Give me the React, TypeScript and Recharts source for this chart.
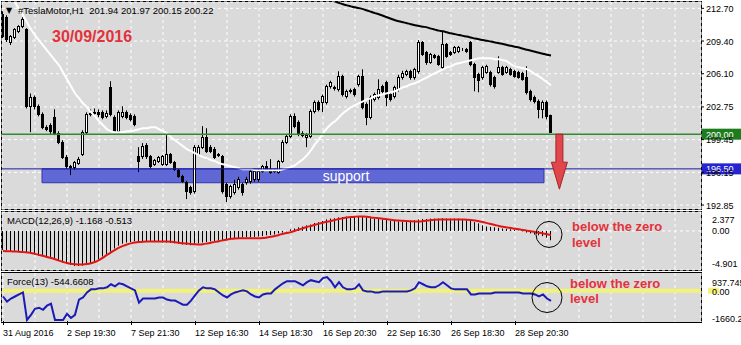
import React from 'react'
import {
  Bar,
  CartesianGrid,
  ComposedChart,
  Line,
  ReferenceArea,
  ReferenceDot,
  ReferenceLine,
  XAxis,
  YAxis,
} from 'recharts'

// #TeslaMotor H1, 31 Aug - 30 Sep 2016, one entry per hourly bar
const opens = [
  212.10, 211.79, 209.27, 209.78, 210.38, 210.89, 210.58, 202.82, 203.73, 202.82,
  202.01, 200.70, 200.91, 201.71, 200.10, 199.19, 197.68, 196.77, 196.67, 197.08,
  197.98, 200.20, 202.01, 202.12, 202.22, 202.22, 201.81, 204.74, 201.71, 200.30,
  201.81, 202.22, 201.91, 201.81, 197.78, 197.78, 198.89, 197.78, 196.97, 197.28,
  196.97, 196.97, 197.98, 197.18, 196.37, 195.76, 195.16, 194.66, 194.25, 197.98,
  198.69, 199.70, 198.69, 198.49, 197.98, 197.78, 194.96, 193.75, 194.15, 194.66,
  194.96, 195.16, 195.26, 195.46, 195.46, 196.27, 196.77, 196.47, 196.27, 196.17,
  197.28, 199.19, 199.80, 201.81, 201.21, 200.10, 199.70, 199.80, 202.32, 203.22,
  203.22, 203.22, 204.84, 204.74, 204.53, 205.85, 203.83, 204.33, 204.53, 205.04,
  205.85, 203.02, 201.71, 203.53, 203.73, 204.84, 205.24, 204.03, 203.83, 204.53,
  205.74, 206.05, 206.35, 205.74, 206.35, 209.27, 208.26, 207.26, 207.96, 207.86,
  206.75, 209.07, 208.26, 208.26, 208.37, 208.57, 208.57, 209.27, 207.06, 206.05,
  205.74, 206.25, 206.25, 205.74, 206.25, 206.75, 206.25, 206.55, 206.35, 206.25,
  206.15, 205.74, 204.33, 203.73, 203.32, 202.52, 203.22, 201.94,
]
const highs = [
  212.40, 212.00, 210.00, 210.70, 211.00, 211.80, 210.70, 204.10, 203.90, 203.00,
  202.20, 200.90, 201.10, 202.52, 200.30, 199.40, 197.90, 196.90, 197.30, 197.70,
  200.40, 202.20, 202.50, 202.60, 202.50, 202.40, 202.40, 205.34, 201.90, 202.40,
  202.82, 202.40, 202.10, 202.00, 198.69, 199.10, 199.10, 197.90, 197.50, 197.80,
  197.90, 199.90, 198.10, 197.30, 196.50, 195.90, 195.30, 194.80, 198.90, 198.90,
  200.81, 200.60, 198.90, 198.70, 198.10, 197.90, 195.10, 194.90, 195.40, 195.70,
  195.10, 195.70, 196.40, 196.50, 196.50, 196.90, 197.28, 197.48, 196.50, 197.40,
  199.40, 200.00, 202.00, 202.10, 201.40, 200.30, 200.10, 202.50, 203.40, 203.40,
  204.00, 205.00, 205.40, 204.90, 206.35, 206.00, 204.50, 204.60, 204.70, 206.00,
  206.55, 203.20, 203.90, 204.20, 205.54, 205.00, 205.40, 204.20, 204.90, 206.00,
  206.40, 206.50, 206.50, 206.70, 209.50, 209.40, 208.40, 208.20, 208.10, 208.00,
  210.38, 209.20, 208.40, 208.90, 208.90, 208.70, 208.70, 209.40, 207.20, 206.20,
  206.90, 207.00, 206.40, 205.90, 207.86, 206.90, 206.90, 206.70, 206.50, 206.40,
  206.30, 206.85, 204.50, 203.90, 203.50, 203.40, 203.40, 201.97,
]
const lows = [
  209.70, 209.30, 209.00, 209.60, 210.20, 210.70, 202.60, 200.20, 202.50, 201.80,
  200.50, 200.30, 200.00, 199.90, 199.00, 197.50, 196.50, 195.87, 196.40, 196.90,
  197.80, 200.00, 201.80, 201.90, 201.70, 201.50, 201.60, 201.80, 200.10, 200.10,
  201.60, 201.50, 201.30, 200.80, 196.17, 197.50, 197.50, 196.50, 196.80, 197.10,
  196.80, 196.80, 197.00, 196.30, 195.60, 195.10, 193.45, 193.90, 194.00, 197.80,
  198.50, 198.10, 198.10, 197.50, 197.70, 194.00, 193.14, 193.50, 193.90, 194.40,
  193.80, 194.90, 195.00, 195.20, 195.20, 196.10, 196.30, 196.00, 196.10, 196.00,
  197.10, 199.00, 199.60, 200.60, 199.80, 199.70, 198.69, 199.60, 202.10, 202.30,
  202.22, 203.00, 204.60, 204.40, 204.30, 203.80, 203.60, 204.10, 203.80, 204.80,
  202.50, 200.91, 201.50, 203.30, 203.50, 204.10, 202.82, 203.30, 203.60, 204.30,
  205.50, 205.85, 205.50, 205.50, 206.10, 207.90, 207.00, 207.10, 207.60, 206.90,
  206.55, 207.70, 207.90, 208.10, 208.20, 208.40, 208.20, 206.85, 204.33, 204.23,
  205.50, 206.10, 204.80, 204.60, 206.10, 205.90, 206.10, 205.90, 205.70, 205.60,
  205.40, 204.00, 203.30, 203.10, 201.60, 201.60, 201.50, 200.15,
]
const closes = [
  209.88, 209.57, 209.88, 210.58, 210.89, 211.59, 202.82, 203.73, 202.82, 202.01,
  200.70, 200.50, 200.30, 200.10, 199.19, 197.68, 196.77, 196.67, 197.18, 197.48,
  200.20, 202.01, 202.12, 202.22, 202.01, 201.71, 202.12, 202.01, 200.30, 202.22,
  202.22, 201.71, 201.51, 201.01, 197.28, 198.79, 197.78, 196.77, 197.38, 197.68,
  197.78, 197.98, 197.18, 196.47, 195.76, 195.26, 194.25, 194.15, 198.69, 198.69,
  199.70, 198.28, 198.28, 197.68, 197.88, 194.25, 193.75, 194.76, 194.96, 195.46,
  194.15, 195.46, 196.27, 196.27, 196.27, 196.77, 196.47, 196.17, 196.37, 197.28,
  199.19, 199.80, 201.81, 200.81, 200.00, 199.90, 199.90, 202.32, 203.22, 202.52,
  203.83, 204.84, 205.24, 204.64, 205.85, 204.03, 204.33, 204.43, 204.03, 205.85,
  202.72, 201.71, 203.73, 204.03, 204.53, 204.33, 203.73, 203.53, 204.74, 205.74,
  206.15, 206.35, 205.74, 206.55, 209.27, 208.06, 207.26, 208.06, 207.76, 207.06,
  209.07, 207.86, 208.06, 208.77, 208.77, 208.60, 208.37, 207.06, 205.74, 205.44,
  206.75, 206.85, 205.04, 204.84, 206.75, 206.05, 206.75, 206.05, 205.85, 205.74,
  205.54, 204.23, 203.53, 203.32, 202.52, 203.22, 201.81, 200.22,
]

// white moving average
const slowMa = [
  215.22, 214.62, 213.91, 213.30, 212.60, 211.99, 211.29, 210.58, 209.98, 209.47,
  208.97, 208.47, 207.96, 207.46, 206.95, 206.25, 205.54, 204.84, 204.13, 203.63,
  203.12, 202.72, 202.22, 201.81, 201.31, 200.91, 200.50, 200.30, 200.20, 200.20,
  200.20, 200.30, 200.30, 200.40, 200.50, 200.60, 200.60, 200.70, 200.70, 200.50,
  200.30, 200.10, 199.70, 199.39, 199.09, 198.79, 198.49, 198.28, 198.08, 197.88,
  197.68, 197.58, 197.38, 197.28, 197.08, 196.97, 196.87, 196.77, 196.67, 196.57,
  196.47, 196.47, 196.47, 196.37, 196.37, 196.37, 196.37, 196.37, 196.37, 196.37,
  196.47, 196.57, 196.67, 196.87, 197.18, 197.48, 197.88, 198.39, 198.99, 199.49,
  200.10, 200.60, 201.01, 201.31, 201.71, 202.12, 202.42, 202.72, 202.92, 203.12,
  203.32, 203.53, 203.63, 203.83, 203.93, 204.03, 204.13, 204.23, 204.33, 204.53,
  204.74, 204.84, 205.04, 205.14, 205.34, 205.54, 205.74, 205.95, 206.15, 206.35,
  206.55, 206.75, 206.85, 207.06, 207.16, 207.26, 207.36, 207.46, 207.56, 207.66,
  207.66, 207.66, 207.66, 207.56, 207.56, 207.46, 207.36, 207.06, 206.85, 206.75,
  206.65, 206.55, 206.35, 206.05, 205.84, 205.54, 205.24, 204.94,
]

// black descending average, visible from bar 80 on
const trendStart = 80
const trendMa = [
  213.75, 213.65, 213.50, 213.38, 213.25, 213.12, 213.00, 212.90, 212.80, 212.72,
  212.62, 212.48, 212.35, 212.22, 212.10, 211.95, 211.80, 211.65, 211.50, 211.40,
  211.30, 211.20, 211.10, 211.00, 210.92, 210.85, 210.78, 210.65, 210.55, 210.45,
  210.38, 210.28, 210.18, 210.10, 210.00, 209.92, 209.85, 209.75, 209.65, 209.57,
  209.50, 209.42, 209.35, 209.25, 209.17, 209.10, 209.00, 208.92, 208.82, 208.75,
  208.62, 208.52, 208.42, 208.32, 208.22, 208.12, 208.02, 207.95,
]

const macdMain = [
  -2.40, -2.45, -2.50, -2.50, -2.55, -2.60, -2.65, -2.80, -2.95, -3.10,
  -3.20, -3.30, -3.45, -3.55, -3.75, -3.95, -4.10, -4.25, -4.40, -4.40,
  -4.35, -4.20, -4.10, -3.95, -3.60, -3.20, -2.95, -2.60, -2.20, -1.85,
  -1.60, -1.45, -1.40, -1.30, -1.30, -1.30, -1.30, -1.35, -1.40, -1.40,
  -1.45, -1.45, -1.50, -1.55, -1.60, -1.70, -1.75, -1.80, -1.70, -1.55,
  -1.45, -1.40, -1.30, -1.25, -1.20, -1.20, -1.15, -1.05, -0.95, -0.90,
  -0.85, -0.80, -0.80, -0.75, -0.70, -0.65, -0.55, -0.50, -0.45, -0.30,
  -0.20, -0.05, 0.20, 0.30, 0.45, 0.55, 0.70, 0.80, 1.00, 1.10,
  1.25, 1.45, 1.55, 1.60, 1.70, 1.75, 1.80, 1.80, 1.80, 1.80,
  1.75, 1.70, 1.60, 1.55, 1.50, 1.45, 1.40, 1.30, 1.25, 1.20,
  1.20, 1.25, 1.30, 1.35, 1.45, 1.50, 1.50, 1.55, 1.55, 1.55,
  1.60, 1.55, 1.55, 1.55, 1.55, 1.50, 1.45, 1.30, 1.10, 0.95,
  0.70, 0.55, 0.50, 0.45, 0.40, 0.30, 0.25, 0.20, 0.15, 0.05,
  -0.05, -0.20, -0.30, -0.45, -0.55, -0.65, -0.85, -1.168,
]
const macdSignal = [
  -2.53, -2.54, -2.56, -2.58, -2.60, -2.64, -2.70, -2.76, -2.88, -3.00,
  -3.12, -3.27, -3.40, -3.55, -3.72, -3.88, -4.02, -4.12, -4.17, -4.20,
  -4.20, -4.15, -4.05, -3.90, -3.65, -3.35, -3.00, -2.68, -2.38, -2.10,
  -1.88, -1.70, -1.56, -1.46, -1.40, -1.36, -1.33, -1.32, -1.32, -1.32,
  -1.32, -1.33, -1.36, -1.42, -1.48, -1.54, -1.58, -1.63, -1.67, -1.69,
  -1.66, -1.58, -1.48, -1.37, -1.28, -1.18, -1.08, -0.98, -0.94, -0.93,
  -0.93, -0.93, -0.93, -0.93, -0.93, -0.90, -0.82, -0.73, -0.62, -0.50,
  -0.36, -0.25, -0.15, 0.02, 0.18, 0.34, 0.50, 0.63, 0.78, 0.92,
  1.04, 1.15, 1.26, 1.38, 1.50, 1.60, 1.68, 1.74, 1.79, 1.82,
  1.82, 1.78, 1.70, 1.64, 1.58, 1.52, 1.46, 1.40, 1.34, 1.30,
  1.28, 1.24, 1.21, 1.20, 1.20, 1.24, 1.30, 1.36, 1.40, 1.43,
  1.44, 1.45, 1.45, 1.45, 1.44, 1.43, 1.42, 1.38, 1.30, 1.22,
  1.12, 0.98, 0.86, 0.74, 0.62, 0.52, 0.44, 0.36, 0.28, 0.20,
  0.12, 0.04, -0.04, -0.12, -0.22, -0.32, -0.42, -0.513,
]

const forceIndex = [
  -308, -579, -417, -308, -200, -92, -1552, -1282, -958, -903,
  -1012, -795, -687, -1552, -1552, -1552, -1228, -1444, -1282, -471,
  -362, -92, 70, 70, 124, 124, 179, 341, 233, 395,
  341, 233, 124, 16, -633, -417, -417, -417, -417, -362,
  -362, -471, -525, -525, -633, -741, -741, -525, -254, 16,
  179, 124, 124, 70, -92, -254, -362, -200, -92, -38,
  16, -38, -200, -308, -362, -200, -146, -146, 70, 233,
  395, 503, 503, 503, 395, 287, 449, 557, 503, 449,
  665, 720, 503, 179, 449, 179, 70, 70, 124, 341,
  16, -38, -38, -92, -92, -38, -38, -38, -38, -38,
  -38, -38, 16, 124, 449, 341, 233, 179, 179, 287,
  449, 287, 124, 70, 70, 70, 70, -200, -200, -146,
  -146, -146, -146, -92, -92, -92, -92, -92, -92, -92,
  -146, -146, -146, -200, -308, -200, -417, -545,
]

const priceTicks = [192.85, 196.15, 199.45, 202.75, 206.1, 209.4, 212.7]
const macdTicks = [-4.901, 0, 2.377]
const macdTickLabels = ['-4.901', '0.00', '2.377']
const forceTicks = [-1660.24, 0, 937.7458]
const forceTickLabels = ['-1660.24', '0.00', '937.7458']
const dateTickBars = [0, 16, 32, 48, 64, 80, 96, 112, 128]
const dateTickLabels = [
  '31 Aug 2016', '2 Sep 19:30', '7 Sep 21:30', '12 Sep 16:30', '14 Sep 18:30',
  '16 Sep 20:30', '22 Sep 16:30', '26 Sep 18:30', '28 Sep 20:30',
]
const gridBars = [0, 8, 16, 24, 32, 40, 48, 56, 64, 72, 80, 88, 96, 104, 112, 120, 128, 136, 144, 152, 160, 168]

const rows = opens.map((open, i) => ({
  i,
  open,
  high: highs[i],
  low: lows[i],
  close: closes[i],
  ma: slowMa[i],
  trend: i >= trendStart ? trendMa[i - trendStart] : null,
  macd: macdMain[i],
  signal: macdSignal[i],
  force: forceIndex[i],
}))

const FONT = '"Liberation Sans", Arial, sans-serif'
const PANEL = '#dadada'
const RED = '#e3323a'
const xDomain = [-0.25, 174.5]
const priceDomain = [192.45, 213.34]

function Candle(props: any) {
  const { x, y, width, height, payload } = props
  if (!payload) return null
  const { open, high, low, close } = payload
  const top = Math.min(y, y + height)
  const span = Math.abs(height)
  const py = (p: number) => (high === low ? top : top + ((high - p) / (high - low)) * span)
  const col = Math.floor(x + width / 2)
  const bTop = Math.round(py(Math.max(open, close)))
  const bBot = Math.round(py(Math.min(open, close)))
  return (
    <g>
      <line x1={col + 0.5} x2={col + 0.5} y1={top} y2={top + span} stroke="#000" />
      <rect
        x={col - 0.5}
        y={bTop + 0.5}
        width={2}
        height={Math.max(bBot - bTop, 0)}
        fill={close >= open ? '#fff' : '#000'}
        stroke="#000"
      />
    </g>
  )
}

function HistBar(props: any) {
  const { x, y, width, height } = props
  const top = Math.min(y, y + height)
  return <rect x={Math.floor(x + width / 2)} y={top} width={1} height={Math.abs(height)} fill="#000" />
}

function PriceTick(props: any) {
  const { x, y, payload } = props
  return (
    <text x={x} y={y + 3.5} fontSize={9} fontFamily={FONT} fill="#000">
      {payload.value.toFixed(2)}
    </text>
  )
}

const sideTick = (ticks: number[], labels: string[], shifts: number[], zeroPatch: boolean) =>
  function SideTick(props: any) {
    const { x, y, payload } = props
    const k = ticks.indexOf(payload.value)
    if (k < 0) return <g />
    return (
      <g>
        {zeroPatch && payload.value === 0 && <rect x={x - 4} y={y - 3} width={11} height={6} fill="#f4f47a" />}
        <text x={x} y={y + shifts[k] + 3.5} fontSize={9} fontFamily={FONT} fill="#000">
          {labels[k]}
        </text>
      </g>
    )
  }

const MacdTick = sideTick(macdTicks, macdTickLabels, [-7, 0, 7], false)
const ForceTick = sideTick(forceTicks, forceTickLabels, [-4, 1, 9], true)

function DateTick(props: any) {
  const { x, y, payload } = props
  const k = dateTickBars.indexOf(payload.value)
  if (k < 0) return <g />
  return (
    <g>
      <line x1={x + 0.5} x2={x + 0.5} y1={y - 1} y2={y + 3} stroke="#000" />
      <text x={x} y={y + 14} fontSize={9} fontFamily={FONT} fill="#000">
        {dateTickLabels[k]}
      </text>
    </g>
  )
}

function PriceTag({ viewBox, text, fill }: any) {
  const x = viewBox.x + viewBox.width + 1
  const y = viewBox.y
  return (
    <g>
      <rect x={x} y={y - 5.5} width={39} height={11} fill={fill} />
      <text x={x + 4} y={y + 3.5} fontSize={9} fontFamily={FONT} fill="#fff">
        {text}
      </text>
    </g>
  )
}

function DownArrow({ cx, cy }: any) {
  const pts = [
    [cx - 3.5, cy],
    [cx + 3.5, cy],
    [cx + 3.5, cy + 28],
    [cx + 8, cy + 28],
    [cx, cy + 55],
    [cx - 8, cy + 28],
    [cx - 3.5, cy + 28],
  ]
  return <polygon points={pts.map((p) => p.join(',')).join(' ')} fill="#e0474c" stroke="#a82226" />
}

function SupportText({ cx, cy }: any) {
  return (
    <text x={cx} y={cy + 5} textAnchor="middle" fontSize={14} fontFamily={FONT} fill="#fff">
      support
    </text>
  )
}

const frame = (top: number, height: number): React.CSSProperties => ({
  position: 'absolute',
  left: 1,
  top,
  width: 701,
  height,
  boxSizing: 'border-box',
  border: '1px solid #000',
  background: PANEL,
})

export default function App() {
  return (
    <div style={{ position: 'absolute', left: 0, top: 0, width: 741, height: 345, background: '#fff', overflow: 'hidden' }}>
      <div style={frame(1, 209)} />
      <div style={frame(211, 60)} />
      <div style={frame(272, 51)} />

      <div style={{ position: 'absolute', left: 0, top: 0 }}>
        <ComposedChart width={741} height={212} data={rows} margin={{ top: 2, right: 0, bottom: 3, left: 2 }}>
          <CartesianGrid stroke="#fff" strokeDasharray="3 3" />
          <XAxis type="number" dataKey="i" domain={xDomain} ticks={gridBars} allowDataOverflow hide />
          <YAxis
            orientation="right"
            width={40}
            domain={priceDomain}
            ticks={priceTicks}
            interval={0}
            allowDataOverflow
            axisLine={false}
            tickLine={{ stroke: '#000' }}
            tickSize={3}
            tickMargin={2}
            tick={PriceTick}
          />
          <Line dataKey="ma" type="monotone" stroke="#fff" strokeWidth={2} dot={false} isAnimationActive={false} />
          <Line dataKey="trend" type="monotone" stroke="#000" strokeWidth={2} dot={false} isAnimationActive={false} />
          <ReferenceArea x1={9.75} x2={135.25} y1={195.1} y2={196.5} fill="#6068d6" fillOpacity={1} stroke="#3434b0" />
          <ReferenceLine
            y={200}
            stroke="#2e8b2e"
            strokeWidth={1.5}
            label={(p: any) => <PriceTag viewBox={p.viewBox} text="200.00" fill="#1d7d1d" />}
          />
          <ReferenceLine
            y={196.5}
            stroke="#1c1ca8"
            label={(p: any) => <PriceTag viewBox={p.viewBox} text="196.50" fill="#2424d0" />}
          />
          <Bar dataKey={(d: any) => [d.low, d.high]} barSize={3} shape={Candle} isAnimationActive={false} />
          <ReferenceDot x={85.75} y={195.8} r={0} shape={SupportText} />
          <ReferenceDot x={139.1} y={200} shape={DownArrow} />
        </ComposedChart>
      </div>

      <div style={{ position: 'absolute', left: 0, top: 211 }}>
        <ComposedChart width={741} height={61} data={rows} margin={{ top: 1, right: 0, bottom: 2, left: 2 }}>
          <CartesianGrid stroke="#fff" strokeDasharray="3 3" />
          <XAxis type="number" dataKey="i" domain={xDomain} ticks={gridBars} allowDataOverflow hide />
          <YAxis
            orientation="right"
            width={40}
            domain={[-4.901, 2.377]}
            ticks={macdTicks}
            interval={0}
            allowDataOverflow
            axisLine={false}
            tickLine={false}
            tickMargin={5}
            tick={MacdTick}
          />
          <Bar dataKey="macd" barSize={1} shape={HistBar} isAnimationActive={false} />
          <Line dataKey="signal" type="monotone" stroke="#e31414" strokeWidth={2} dot={false} isAnimationActive={false} />
          <ReferenceDot x={136.5} y={-0.44} r={13} fill="none" stroke="#000" />
        </ComposedChart>
      </div>

      <div style={{ position: 'absolute', left: 0, top: 272 }}>
        <ComposedChart width={741} height={73} data={rows} margin={{ top: 1, right: 0, bottom: 0, left: 2 }}>
          <CartesianGrid stroke="#fff" strokeDasharray="3 3" horizontal={false} />
          <XAxis
            type="number"
            dataKey="i"
            domain={xDomain}
            ticks={gridBars}
            interval={0}
            allowDataOverflow
            height={23}
            axisLine={false}
            tickLine={false}
            tickSize={0}
            tickMargin={0}
            tick={DateTick}
          />
          <YAxis
            orientation="right"
            width={40}
            domain={[-1660.24, 937.7458]}
            ticks={forceTicks}
            interval={0}
            allowDataOverflow
            axisLine={false}
            tickLine={false}
            tickMargin={5}
            tick={ForceTick}
          />
          <ReferenceLine y={0} stroke="#f2f27a" strokeWidth={4} />
          <Line dataKey="force" type="linear" stroke="#1a1ab4" strokeWidth={2} dot={false} isAnimationActive={false} />
          <ReferenceDot x={136} y={-362} r={15} fill="none" stroke="#000" />
        </ComposedChart>
      </div>

      <svg width={741} height={345} style={{ position: 'absolute', left: 0, top: 0, pointerEvents: 'none' }}>
        <text x={6} y={13} fontSize={8} fontFamily='"DejaVu Sans", sans-serif' fill="#000">▼</text>
        <text x={18} y={13.5} fontSize={9.5} fontFamily={FONT} fill="#000" style={{ whiteSpace: 'pre' }}>
          {'#TeslaMotor,H1  201.94 201.97 200.15 200.22'}
        </text>
        <text x={52} y={42} fontSize={16} fontWeight="bold" fontFamily={FONT} fill={RED}>
          30/09/2016
        </text>
        <text x={7} y={223.5} fontSize={9.5} fontFamily={FONT} fill="#000">
          MACD(12,26,9) -1.168 -0.513
        </text>
        <text x={7} y={285} fontSize={9.5} fontFamily={FONT} fill="#000">
          Force(13) -544.6608
        </text>
        <text x={572} y={231} fontSize={13} fontWeight="bold" fontFamily={FONT} fill={RED}>below the zero</text>
        <text x={572} y={247} fontSize={13} fontWeight="bold" fontFamily={FONT} fill={RED}>level</text>
        <text x={570} y={288} fontSize={13} fontWeight="bold" fontFamily={FONT} fill={RED}>below the zero</text>
        <text x={570} y={303} fontSize={13} fontWeight="bold" fontFamily={FONT} fill={RED}>level</text>
      </svg>
    </div>
  )
}
